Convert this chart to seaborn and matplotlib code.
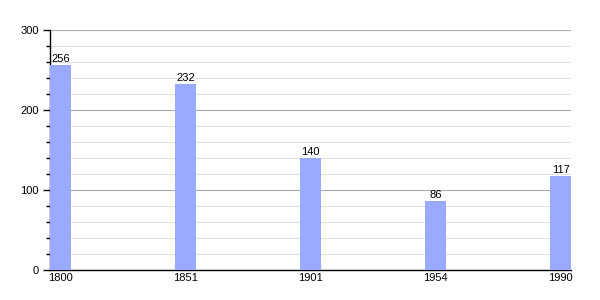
import matplotlib
matplotlib.use("Agg")
import matplotlib.pyplot as plt
import seaborn as sns
import pandas as pd
from matplotlib.ticker import MultipleLocator

years = ["1800", "1851", "1901", "1954", "1990"]
population = [256, 232, 140, 86, 117]

df = pd.DataFrame({"year": years, "pop": population})

sns.set_theme(style="white")
plt.rcParams['font.family'] = ['Liberation Sans', 'DejaVu Sans']
plt.rcParams['text.color'] = 'black'
plt.rcParams['xtick.color'] = 'black'
plt.rcParams['ytick.color'] = 'black'

fig = plt.figure(figsize=(6, 3), dpi=100)
ax = fig.add_axes([50/600, 0.1, 521/600, 0.8])

sns.barplot(data=df, x="year", y="pop", color="#99AAFF", saturation=1,
            width=0.168, ax=ax, zorder=3, linewidth=0, edgecolor="none")

ax.set_xlim(-0.084, 4.084)
ax.set_ylim(0, 300)
ax.yaxis.set_major_locator(MultipleLocator(100))
ax.yaxis.set_minor_locator(MultipleLocator(20))
ax.grid(axis="y", which="major", color="#aaaaaa", linewidth=0.8, zorder=0)
ax.grid(axis="y", which="minor", color="#e2e2e2", linewidth=0.8, zorder=0)
ax.set_axisbelow(True)

for s in ["top", "right"]:
    ax.spines[s].set_visible(False)
for s in ["left", "bottom"]:
    ax.spines[s].set_color("black")
    ax.spines[s].set_linewidth(1)

ax.tick_params(axis="y", which="major", left=True, length=5, width=1, color="black", labelsize=8, pad=3)
ax.tick_params(axis="y", which="minor", left=True, length=3, width=1, color="black")
ax.tick_params(axis="x", bottom=False, length=0, labelsize=8, pad=2)

ax.set_xlabel("")
ax.set_ylabel("")

for c in ax.containers:
    ax.bar_label(c, labels=[str(v) for v in population], fontsize=8, padding=1)

fig.savefig("out.png", dpi=100)
